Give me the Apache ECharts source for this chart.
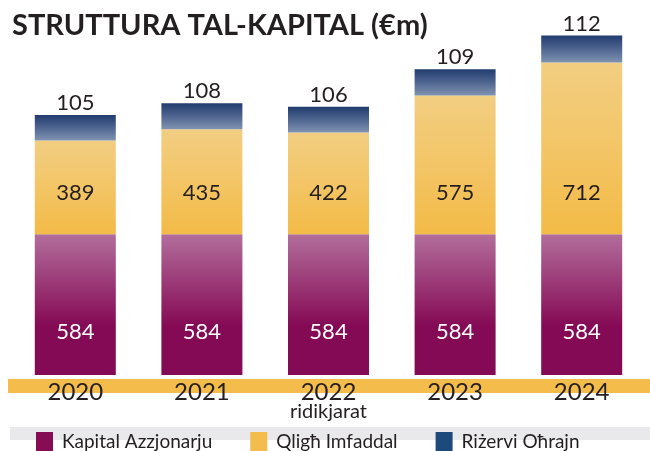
<!DOCTYPE html>
<html>
<head>
<meta charset="utf-8">
<script src="https://cdn.jsdelivr.net/npm/echarts@6/dist/echarts.min.js"></script>
<style>
  html, body { margin: 0; padding: 0; background: #ffffff; }
  #chart { width: 650px; height: 451px; }
</style>
</head>
<body>
<div id="chart"></div>
<script>
  // data
  let years = ['2020', '2021', '2022', '2023', '2024'];
  let yearNotes = ['', '', 'ridikjarat', '', ''];
  let kapitalAzzjonarju = [584, 584, 584, 584, 584];
  let qlighImfaddal = [389, 435, 422, 575, 712];
  let rizerviOhrajn = [105, 108, 106, 109, 112];

  let fontFam = 'Lato, "Noto Sans", sans-serif';

  function grad(top, mid, bottom, stop) {
    return new echarts.graphic.LinearGradient(0, 0, 0, 1, [
      {offset: 0, color: top},
      {offset: stop, color: mid},
      {offset: 1, color: bottom}
    ]);
  }

  let chart = echarts.init(document.getElementById('chart'));

  let option = {
    backgroundColor: '#ffffff',
    animation: false,
    title: {
      text: 'STRUTTURA TAL-KAPITAL (€m)',
      left: 7,
      top: 6,
      textStyle: {
        fontFamily: fontFam,
        fontWeight: 'bold',
        fontSize: 29,
        color: '#231f20'
      }
    },
    graphic: [
      // orange band under the bars
      {type: 'rect', left: 8, top: 379, z: -10, shape: {width: 642, height: 14}, style: {fill: '#f3bc4b'}},
      // grey band behind the legend
      {type: 'rect', left: 10, top: 427, z: -10, shape: {width: 640, height: 13}, style: {fill: '#e9e9eb'}}
    ],
    legend: {
      left: 31,
      top: 427,
      itemWidth: 17,
      itemHeight: 20,
      itemGap: 38,
      icon: 'rect',
      textStyle: {
        fontFamily: fontFam,
        fontSize: 19,
        color: '#231f20',
        padding: [0, 0, 0, 4]
      },
      data: [
        {name: 'Kapital Azzjonarju', itemStyle: {color: '#850c55'}},
        {name: 'Qligħ Imfaddal', itemStyle: {color: '#f4bc4c'}},
        {name: 'Riżervi Oħrajn', itemStyle: {color: '#1c4a7b'}}
      ]
    },
    grid: {
      left: 12,
      right: 5,
      top: 35,
      bottom: 76
    },
    xAxis: {
      type: 'category',
      data: years,
      axisLine: {show: false},
      axisTick: {show: false},
      axisLabel: {
        interval: 0,
        margin: 5,
        fontFamily: fontFam,
        fontSize: 24,
        color: '#231f20',
        formatter: function (v, i) {
          return yearNotes[i] ? v + '\n{s|' + yearNotes[i] + '}' : v;
        },
        rich: {
          s: {fontFamily: fontFam, fontSize: 20, lineHeight: 16, color: '#231f20'}
        }
      }
    },
    yAxis: {
      type: 'value',
      min: 0,
      max: 1410,
      show: false,
      splitLine: {show: false}
    },
    series: [
      {
        name: 'Kapital Azzjonarju',
        type: 'bar',
        stack: 'k',
        barWidth: 81,
        data: kapitalAzzjonarju,
        itemStyle: {color: grad('#b26e9b', '#850a55', '#850a55', 0.65)},
        label: {
          show: true,
          position: 'insideBottom',
          distance: 32,
          fontFamily: fontFam,
          fontSize: 22,
          color: '#ffffff'
        }
      },
      {
        name: 'Qligħ Imfaddal',
        type: 'bar',
        stack: 'k',
        barWidth: 81,
        data: qlighImfaddal,
        itemStyle: {color: grad('#f2ce82', '#f3c566', '#f3bb47', 0.5)},
        label: {
          show: true,
          position: 'insideBottom',
          distance: 30,
          fontFamily: fontFam,
          fontSize: 22,
          color: '#231f20'
        }
      },
      {
        name: 'Riżervi Oħrajn',
        type: 'bar',
        stack: 'k',
        barWidth: 81,
        data: rizerviOhrajn,
        itemStyle: {color: grad('#203c6e', '#4f6590', '#8093b0', 0.5)},
        label: {
          show: true,
          position: 'top',
          distance: 1,
          fontFamily: fontFam,
          fontSize: 22,
          color: '#231f20'
        }
      }
    ]
  };

  chart.setOption(option);
</script>
</body>
</html>
